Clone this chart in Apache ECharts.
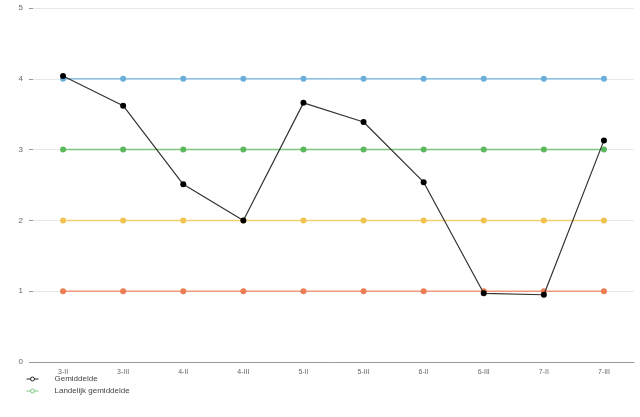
<!DOCTYPE html>
<html><head><meta charset="utf-8">
<script src="https://cdn.jsdelivr.net/npm/echarts@6/dist/echarts.min.js"></script>
<style>html,body{margin:0;padding:0;background:#fff}#c{width:640px;height:417px}</style>
</head><body><div id="c"></div>
<script>
const categories = ['3-II','3-III','4-II','4-III','5-II','5-III','6-II','6-III','7-II','7-III'];
const gemiddelde = [4.04, 3.62, 2.51, 2.0, 3.66, 3.39, 2.54, 0.97, 0.95, 3.13];
const level4 = [4,4,4,4,4,4,4,4,4,4];
const landelijk = [3,3,3,3,3,3,3,3,3,3];
const level2 = [2,2,2,2,2,2,2,2,2,2];
const level1 = [1,1,1,1,1,1,1,1,1,1];
const yTicks = [0,1,2,3,4,5];

function flat(name, data, color, lineColor){
  return {name, type:'line', data, symbol:'circle', symbolSize:6, z:2,
    itemStyle:{color}, lineStyle:{color:lineColor, width:1.5}, emphasis:{disabled:true}};
}
const chart = echarts.init(document.getElementById('c'));
chart.setOption({
  animation:false,
  textStyle:{fontFamily:'Liberation Sans, Arial, sans-serif'},
  grid:{left:33, right:6, top:8, bottom:55, containLabel:false},
  xAxis:{type:'category', data:categories, boundaryGap:true,
    axisLine:{lineStyle:{color:'#999', width:1}},
    axisTick:{alignWithLabel:true, length:3, lineStyle:{color:'#999'}},
    axisLabel:{fontSize:7, color:'#666', margin:7}},
  yAxis:{type:'value', min:0, max:5, interval:1,
    axisLine:{show:false},
    axisTick:{show:true, length:4, lineStyle:{color:'#999'}},
    axisLabel:{fontSize:8, color:'#666', margin:10, formatter:v=>yTicks.includes(v)?String(v):''},
    splitLine:{lineStyle:{color:'#e8e8e8', width:1}}},
  legend:{orient:'vertical', left:21, top:370, itemWidth:12, itemHeight:5, itemGap:4,
    data:[
      {name:'Gemiddelde', itemStyle:{color:'#fff', borderColor:'#222', borderWidth:1}, lineStyle:{color:'#222', width:1}},
      {name:'Landelijk gemiddelde', itemStyle:{color:'#fff', borderColor:'#7cc77c', borderWidth:1}, lineStyle:{color:'#7cc77c', width:1}}
    ],
    textStyle:{fontSize:8, color:'#444', padding:[0,0,0,11]}},
  series:[
    flat('Niveau 4', level4, '#6aaedb', '#8cc3e6'),
    flat('Landelijk gemiddelde', landelijk, '#5cb85c', '#7cc77c'),
    flat('Niveau 2', level2, '#f0c24f', '#f3cf75'),
    flat('Niveau 1', level1, '#ec7c52', '#f09a7a'),
    {name:'Gemiddelde', type:'line', data:gemiddelde, symbol:'circle', symbolSize:6, z:5,
     itemStyle:{color:'#000'}, lineStyle:{color:'#333', width:1.2}, emphasis:{disabled:true}}
  ]
});
</script></body></html>
